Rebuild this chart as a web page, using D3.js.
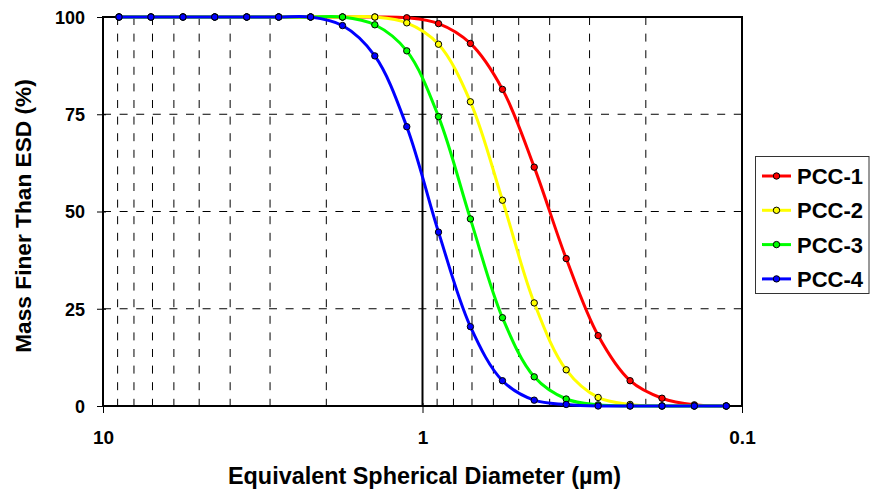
<!DOCTYPE html>
<html>
<head>
<meta charset="utf-8">
<script src="https://cdn.jsdelivr.net/npm/d3@7"></script>
<style>
  html, body { margin: 0; padding: 0; background: #fff; }
  svg { display: block; }
  text { font-family: "Liberation Sans", Arial, sans-serif; font-weight: bold; fill: #000; }
</style>
</head>
<body>
<svg id="chart" width="871" height="494"></svg>
<script>
// ---- data ----
const diameters = [8.91, 7.08, 5.62, 4.47, 3.55, 2.82, 2.24, 1.78, 1.41, 1.12,
                   0.891, 0.708, 0.562, 0.447, 0.355, 0.282, 0.224, 0.178, 0.141, 0.112];
const seriesNames = ["PCC-1", "PCC-2", "PCC-3", "PCC-4"];
const seriesColors = ["#ff0000", "#ffff00", "#00ff00", "#0000ff"];
const pcc1 = [100, 100, 100, 100, 100, 100, 100, 100, 100, 99.8, 98.3, 93.2, 81.4, 61.4, 37.9, 18.1, 6.5, 2.0, 0.3, 0];
const pcc2 = [100, 100, 100, 100, 100, 100, 100, 100, 100, 98.5, 93.0, 78.2, 52.9, 26.5, 9.3, 2.2, 0.4, 0, 0, 0];
const pcc3 = [100, 100, 100, 100, 100, 100, 100, 100, 98.0, 91.3, 74.4, 48.1, 22.7, 7.5, 1.8, 0.3, 0, 0, 0, 0];
const pcc4 = [100, 100, 100, 100, 100, 100, 100, 97.8, 90.0, 71.8, 44.7, 20.4, 6.5, 1.5, 0.4, 0, 0, 0, 0, 0];
const xMajorTicks = [10, 1, 0.1];
const xTickLabels = ["10", "1", "0.1"];
const xMinorGrid = [9, 8, 7, 6, 5, 4, 3, 2, 0.9, 0.8, 0.7, 0.6, 0.5, 0.4, 0.3, 0.2];
const yTicks = [0, 25, 50, 75, 100];
const xTitle = "Equivalent Spherical Diameter (\u00b5m)";
const yTitle = "Mass Finer Than ESD (%)";

const seriesValues = [pcc1, pcc2, pcc3, pcc4];

// ---- layout ----
const L = 103, R = 742, T = 17, B = 406;
const svg = d3.select("#chart");
const x = d3.scaleLog().domain([10, 0.1]).range([L, R]);
const y = d3.scaleLinear().domain([0, 100]).range([B, T]);

// grid: vertical dashed minor lines
svg.append("g").selectAll("line").data(xMinorGrid).join("line")
  .attr("x1", d => x(d)).attr("x2", d => x(d))
  .attr("y1", T).attr("y2", B)
  .attr("stroke", "#000").attr("stroke-width", 1)
  .attr("stroke-dasharray", "8,8.6");

// horizontal dashed grid
svg.append("g").selectAll("line").data(yTicks.filter(v => v > 0 && v < 100)).join("line")
  .attr("x1", L).attr("x2", R)
  .attr("y1", d => y(d)).attr("y2", d => y(d))
  .attr("stroke", "#000").attr("stroke-width", 1)
  .attr("stroke-dasharray", "8,8.6");

// major vertical line at 1
svg.append("line")
  .attr("x1", x(1)).attr("x2", x(1)).attr("y1", T).attr("y2", B)
  .attr("stroke", "#000").attr("stroke-width", 2);

// frame
svg.append("rect")
  .attr("x", L).attr("y", T).attr("width", R - L).attr("height", B - T)
  .attr("fill", "none").attr("stroke", "#000").attr("stroke-width", 2);

// y axis
const yAxis = d3.axisLeft(y).tickValues(yTicks).tickSize(6).tickPadding(12).tickFormat(d3.format("d"));
const gy = svg.append("g").attr("transform", `translate(${L},0)`).call(yAxis);
gy.select(".domain").remove();
gy.selectAll(".tick line").attr("stroke", "#000").attr("stroke-width", 1).attr("x2", 3).attr("x1", -6);
gy.selectAll(".tick text").attr("font-size", 18).attr("font-family", "Liberation Sans, Arial, sans-serif")
  .attr("font-weight", "bold").attr("dy", "0.36em").attr("x", -18);

// x axis
const xAxis = d3.axisBottom(x).tickValues(xMajorTicks).tickSize(7).tickPadding(18)
  .tickFormat((d, i) => xTickLabels[i]);
const gx = svg.append("g").attr("transform", `translate(0,${B})`).call(xAxis);
gx.select(".domain").remove();
gx.selectAll(".tick line").attr("stroke", "#000").attr("stroke-width", 1).attr("y1", -3);
gx.selectAll(".tick text").attr("font-size", 19).attr("font-family", "Liberation Sans, Arial, sans-serif")
  .attr("font-weight", "bold");

// titles
svg.append("text").attr("x", 424.5).attr("y", 484)
  .attr("text-anchor", "middle").attr("font-size", 23.4).text(xTitle);
svg.append("text")
  .attr("transform", `translate(31,216) rotate(-90)`)
  .attr("text-anchor", "middle").attr("font-size", 22.7).text(yTitle);

// series
const line = d3.line()
  .x((d, i) => x(diameters[i]))
  .y(d => y(d))
  .curve(d3.curveCatmullRom.alpha(0.5));

seriesValues.forEach((vals, si) => {
  const g = svg.append("g");
  g.append("path").datum(vals)
    .attr("d", line)
    .attr("fill", "none").attr("stroke", seriesColors[si]).attr("stroke-width", 3)
    .attr("stroke-linejoin", "round");
  g.selectAll("circle").data(vals).join("circle")
    .attr("cx", (d, i) => x(diameters[i]))
    .attr("cy", d => y(d))
    .attr("r", 3.2)
    .attr("fill", seriesColors[si])
    .attr("stroke", "#000").attr("stroke-width", 1);
});

// legend
const lg = svg.append("g");
lg.append("rect").attr("x", 755.5).attr("y", 156.5).attr("width", 113.5).attr("height", 137)
  .attr("fill", "#fff").attr("stroke", "#333").attr("stroke-width", 1);
seriesNames.forEach((name, i) => {
  const cy = 176 + i * 34.3;
  lg.append("line").attr("x1", 762).attr("x2", 791).attr("y1", cy).attr("y2", cy)
    .attr("stroke", seriesColors[i]).attr("stroke-width", 3);
  lg.append("circle").attr("cx", 776.5).attr("cy", cy).attr("r", 3.2)
    .attr("fill", seriesColors[i]).attr("stroke", "#000").attr("stroke-width", 1);
  lg.append("text").attr("x", 797).attr("y", cy + 8).attr("font-size", 22).text(name);
});
</script>
</body>
</html>
